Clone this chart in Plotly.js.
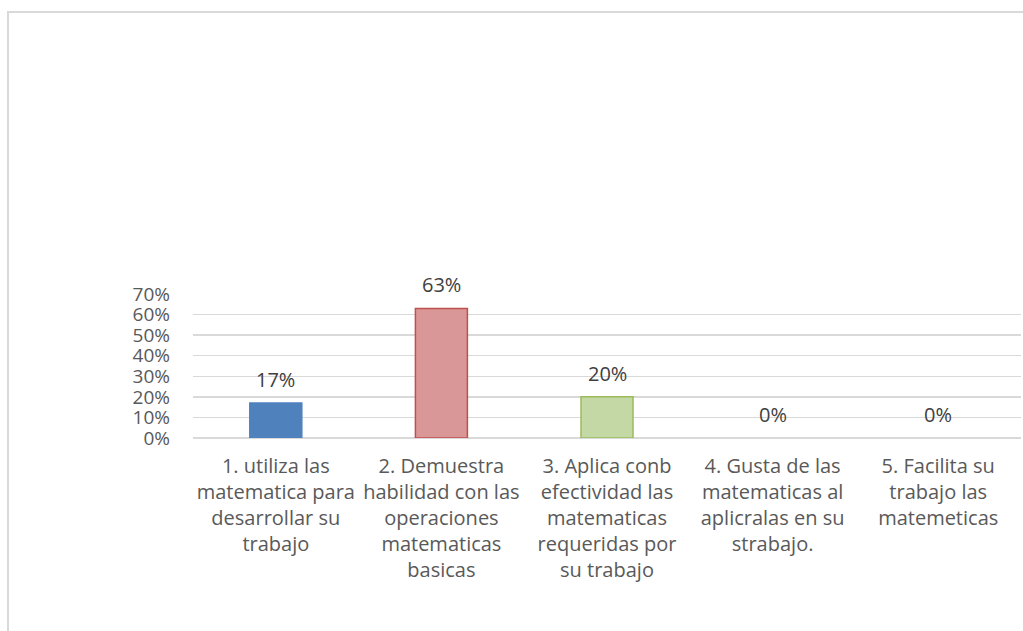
<!DOCTYPE html>
<html>
<head>
<meta charset="utf-8">
<script src="https://cdn.plot.ly/plotly-3.0.1.min.js"></script>
<style>
  html, body { margin: 0; padding: 0; background: #fff; }
  #frame { position: absolute; left: 7px; top: 11px; width: 1100px; height: 700px;
           border-left: 2px solid #D9D9D9; border-top: 2px solid #D9D9D9; box-sizing: border-box; }
  #chart { position: absolute; left: 0; top: 0; width: 1023px; height: 631px; }
</style>
</head>
<body>
<div id="frame"></div>
<div id="chart"></div>
<script>
const categories = [
  "1. utiliza las<br>matematica para<br>desarrollar su<br>trabajo",
  "2. Demuestra<br>habilidad con las<br>operaciones<br>matematicas<br>basicas",
  "3. Aplica conb<br>efectividad las<br>matematicas<br>requeridas por<br>su trabajo",
  "4. Gusta de las<br>matematicas al<br>aplicralas en su<br>strabajo.",
  "5. Facilita su<br>trabajo las<br>matemeticas"
];
const values = [0.17, 0.63, 0.20, 0, 0];
const dataLabels = ["17%", "63%", "20%", "0%", "0%"];
const yTickVals = [0, 0.1, 0.2, 0.3, 0.4, 0.5, 0.6, 0.7];
const yTickText = ["0%", "10%", "20%", "30%", "40%", "50%", "60%", "70%"];

const fillColors = ["#4F81BD", "#D99797", "#C4D8A5", "#4F81BD", "#4F81BD"];
const lineColors = ["#4F81BD", "#C0504D", "#9BBB59", "#4F81BD", "#4F81BD"];

const font = "'Open Sans', 'Liberation Sans', sans-serif";

const trace = {
  type: "bar",
  x: categories,
  y: values,
  marker: {
    color: fillColors,
    line: { color: lineColors, width: values.map(v => v > 0 ? 1.5 : 0) }
  },
  hoverinfo: "skip",
  cliponaxis: false
};

const annotations = categories.map((c, i) => ({
  x: c, y: values[i], xref: "x", yref: "y",
  text: dataLabels[i], showarrow: false,
  yanchor: "bottom", yshift: 8,
  font: { family: font, size: 20, color: "#404040" }
}));

const layout = {
  width: 1023, height: 631,
  margin: { l: 193, r: 2, t: 294, b: 193 },
  paper_bgcolor: "rgba(0,0,0,0)",
  plot_bgcolor: "rgba(0,0,0,0)",
  showlegend: false,
  bargap: 0.686,
  xaxis: {
    type: "category",
    tickangle: 0,
    tickfont: { family: font, size: 20, color: "#595959" },
    showgrid: false, zeroline: false, showline: false,
    ticks: "", ticklabelstandoff: 14
  },
  yaxis: {
    range: [0, 0.7],
    tickvals: yTickVals, ticktext: yTickText,
    tickfont: { family: font, size: 19, color: "#595959" },
    showgrid: true, gridcolor: "#D9D9D9", gridwidth: 1.5,
    zeroline: true, zerolinecolor: "#D9D9D9", zerolinewidth: 1.5,
    showline: false, ticks: "", ticklabelstandoff: 22
  },
  annotations: annotations
};

Plotly.newPlot("chart", [trace], layout, { displayModeBar: false, staticPlot: true });
</script>
</body>
</html>
